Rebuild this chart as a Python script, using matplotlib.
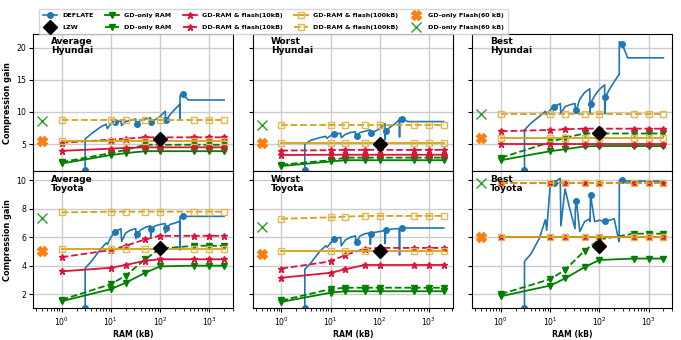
import matplotlib
matplotlib.use("Agg")
import matplotlib.pyplot as plt

# panels in reading order
panel_titles = ["Average\nHyundai", "Worst\nHyundai", "Best\nHyundai",
                "Average\nToyota", "Worst\nToyota", "Best\nToyota"]

ram_kb = [1, 10, 20, 50, 100, 500, 1000, 2000]
flash_x = 0.4
lzw_x = 100

# DEFLATE window sweep (kB)
deflate_x = [3, 3, 4, 6, 8, 8.5, 10, 12, 16, 16.5, 20, 25, 32, 32.5, 34, 40, 50,
             64, 64.5, 66, 80, 100, 128, 128.5, 132, 160, 200, 250, 253, 254,
             288, 375, 2000]
deflate_marks = [0, 7, 14, 19, 24, 30]

deflate_y = [
    [1.0, 5.8, 6.6, 7.6, 8.1, 7.4, 8.2, 8.4, 8.6, 7.9, 8.5, 8.7, 8.9, 7.9, 8.1, 8.7, 8.9,
     9.1, 8.0, 8.5, 8.8, 9.3, 10.1, 8.5, 8.7, 9.6, 10.4, 11.2, 9.0, 12.5,
     12.75, 11.85, 11.85],
    [1.0, 5.0, 5.6, 6.0, 6.2, 5.9, 6.3, 6.55, 6.7, 6.0, 6.5, 6.8, 6.9, 6.0, 6.2, 6.8, 7.0,
     7.2, 6.3, 6.8, 7.0, 7.4, 8.2, 5.7, 7.0, 7.6, 8.1, 8.8, 6.1, 9.1,
     8.9, 8.5, 8.5],
    [1.0, 7.2, 8.2, 9.3, 10.1, 9.6, 10.3, 10.8, 11.3, 9.8, 10.8, 11.1, 11.3, 9.8, 10.3, 12.0, 13.0,
     13.6, 9.7, 11.3, 12.5, 13.5, 14.2, 9.7, 12.3, 13.5, 14.7, 15.8, 15.8, 20.9,
     20.6, 18.4, 18.4],
    [1.0, 3.82, 4.3, 5.1, 5.6, 5.5, 6.0, 6.37, 6.6, 5.7, 6.3, 6.5, 6.6, 5.9, 6.22, 6.5, 6.7,
     6.8, 6.06, 6.58, 6.8, 6.9, 6.96, 6.3, 6.65, 6.9, 7.0, 7.12, 5.1, 7.45,
     7.47, 7.47, 7.47],
    [1.0, 3.75, 4.2, 5.0, 5.4, 5.3, 5.6, 5.88, 6.0, 5.4, 5.8, 6.0, 6.1, 5.5, 5.7, 6.1, 6.25,
     6.3, 5.5, 6.25, 6.35, 6.4, 6.48, 5.55, 6.5, 6.55, 6.6, 6.6, 4.75, 6.65,
     6.65, 6.65, 6.65],
    [1.0, 4.3, 4.8, 5.9, 7.25, 6.5, 9.7, 9.85, 10.15, 6.8, 9.4, 8.0, 6.6, 8.0, 8.55, 6.4, 7.1,
     7.3, 7.1, 8.95, 7.1, 7.2, 7.1, 7.0, 7.13, 7.2, 7.3, 5.7, 5.7, 10.0,
     10.0, 9.95, 9.95],
]

lzw_y = [5.8, 5.0, 6.7, 5.22, 5.0, 5.4]

gd_ram = [
    [2.0, 3.3, 3.6, 3.9, 3.9, 3.9, 3.9, 3.9],
    [1.6, 2.3, 2.5, 2.5, 2.5, 2.5, 2.5, 2.5],
    [2.5, 3.9, 4.2, 4.65, 4.7, 4.7, 4.7, 4.7],
    [1.5, 2.35, 2.8, 3.5, 3.95, 4.0, 4.0, 4.0],
    [1.45, 2.1, 2.2, 2.2, 2.2, 2.2, 2.2, 2.2],
    [1.85, 2.6, 3.1, 3.9, 4.4, 4.5, 4.5, 4.5],
]
dd_ram = [
    [2.2, 3.6, 4.1, 4.9, 4.9, 4.9, 4.9, 4.9],
    [1.8, 2.5, 2.9, 2.9, 2.9, 2.9, 2.9, 2.9],
    [2.9, 5.3, 6.0, 6.65, 6.65, 6.65, 6.65, 6.65],
    [1.6, 2.7, 3.3, 4.45, 5.2, 5.4, 5.4, 5.4],
    [1.55, 2.35, 2.45, 2.45, 2.45, 2.45, 2.45, 2.45],
    [2.0, 3.05, 3.7, 5.05, 5.85, 6.25, 6.25, 6.25],
]
gd_flash10 = [
    [3.95, 4.3, 4.4, 4.5, 4.5, 4.5, 4.5, 4.5],
    [3.3, 3.35, 3.35, 3.35, 3.35, 3.35, 3.35, 3.35],
    [5.0, 5.0, 5.0, 5.0, 5.0, 5.0, 5.0, 5.0],
    [3.6, 3.85, 4.05, 4.35, 4.45, 4.45, 4.45, 4.45],
    [3.15, 3.5, 3.75, 4.05, 4.05, 4.05, 4.05, 4.05],
    [6.0, 6.0, 6.0, 6.0, 6.0, 6.0, 6.0, 6.0],
]
dd_flash10 = [
    [5.2, 5.7, 5.85, 6.05, 6.05, 6.05, 6.05, 6.05],
    [4.0, 4.05, 4.1, 4.1, 4.1, 4.1, 4.1, 4.1],
    [7.0, 7.2, 7.3, 7.4, 7.4, 7.4, 7.4, 7.4],
    [4.6, 5.1, 5.4, 5.85, 6.1, 6.1, 6.1, 6.1],
    [3.8, 4.3, 4.75, 5.2, 5.25, 5.25, 5.25, 5.25],
    [9.85, 9.85, 9.85, 9.85, 9.85, 9.85, 9.85, 9.85],
]
gd_flash100 = [
    [5.5, 5.5, 5.5, 5.5, 5.5, 5.5, 5.5, 5.5],
    [5.2, 5.2, 5.2, 5.2, 5.2, 5.2, 5.2, 5.2],
    [6.0, 6.0, 6.0, 6.0, 6.0, 6.0, 6.0, 6.0],
    [5.2, 5.2, 5.2, 5.2, 5.2, 5.2, 5.2, 5.2],
    [5.05, 5.05, 5.05, 5.05, 5.05, 5.05, 5.05, 5.05],
    [6.0, 6.0, 6.0, 6.0, 6.0, 6.0, 6.0, 6.0],
]
dd_flash100 = [
    [8.7, 8.7, 8.7, 8.7, 8.7, 8.7, 8.7, 8.7],
    [7.9, 7.9, 7.9, 7.9, 7.9, 7.9, 7.9, 7.9],
    [9.65, 9.65, 9.65, 9.65, 9.65, 9.65, 9.65, 9.65],
    [7.75, 7.8, 7.8, 7.8, 7.8, 7.8, 7.8, 7.8],
    [7.3, 7.4, 7.45, 7.5, 7.5, 7.5, 7.5, 7.5],
    [9.85, 9.85, 9.85, 9.85, 9.85, 9.85, 9.85, 9.85],
]
gd_only_flash = [5.5, 5.2, 6.0, 5.0, 4.8, 6.0]
dd_only_flash = [8.6, 7.95, 9.65, 7.35, 6.75, 9.85]

blue = '#1f77b4'
green = 'green'
red = 'crimson'
gold = '#d4a017'

fig, axes = plt.subplots(2, 3, figsize=(6.81, 3.4), dpi=100, sharex=True, sharey='row')
fig.subplots_adjust(left=0.0485, right=0.9875, top=0.9, bottom=0.0932,
                    hspace=0, wspace=0.0975)

for i, ax in enumerate(axes.flat):
    ax.plot(deflate_x, deflate_y[i], '-o', color=blue, lw=1.2, ms=4,
            markevery=deflate_marks, label='DEFLATE')
    ax.plot([lzw_x], [lzw_y[i]], 'D', color='black', ms=7, zorder=10, label='LZW')
    ax.plot(ram_kb, gd_ram[i], '-v', color=green, lw=1.3, ms=5, label='GD-only RAM')
    ax.plot(ram_kb, dd_ram[i], '--v', color=green, lw=1.3, ms=5, label='DD-only RAM')
    ax.plot(ram_kb, gd_flash10[i], '-*', color=red, lw=1.3, ms=5,
            label='GD-RAM & flash(10kB)')
    ax.plot(ram_kb, dd_flash10[i], '--*', color=red, lw=1.3, ms=5,
            label='DD-RAM & flash(10kB)')
    ax.plot(ram_kb, gd_flash100[i], '-s', color=gold, lw=1.3, ms=5, mfc='none',
            mec='#e0b850', label='GD-RAM & flash(100kB)')
    ax.plot(ram_kb, dd_flash100[i], '--s', color=gold, lw=1.3, ms=5, mfc='none',
            mec='#e0b850', label='DD-RAM & flash(100kB)')
    ax.plot([flash_x], [gd_only_flash[i]], 'X', color='#ff7f0e', ms=7,
            label='GD-only Flash(60 kB)')
    ax.plot([flash_x], [dd_only_flash[i]], 'x', color='#2ca02c', ms=7,
            label='DD-only Flash(60 kB)')

    ax.set_xscale('log')
    ax.grid(True, which='major', color='#cccccc', lw=1.0)
    ax.set_axisbelow(True)
    ax.tick_params(labelsize=5.6, length=3, pad=2)
    ax.tick_params(which='minor', length=1.8)
    ax.text(0.09, 0.975, panel_titles[i], transform=ax.transAxes, va='top',
            ha='left', fontsize=6.5, fontweight='bold', linespacing=1.0)

axes[0, 0].set_ylim(0.8, 22.1)
axes[0, 0].set_yticks([5, 10, 15, 20])
axes[1, 0].set_ylim(1.0, 10.65)
axes[1, 0].set_yticks([2, 4, 6, 8, 10])
axes[0, 0].set_xticks([1, 10, 100, 1000])

for ax in axes[:, 0]:
    ax.set_ylabel('Compression gain', fontsize=5.9, fontweight='bold', labelpad=3)
for ax in axes[1, :]:
    ax.set_xlabel('RAM (kB)', fontsize=5.6, fontweight='bold', labelpad=2)

handles, labels = axes[0, 0].get_legend_handles_labels()
fig.legend(handles, labels, loc='lower left', bbox_to_anchor=(0.058, 0.9),
           ncol=5, prop={'size': 4.6, 'weight': 'bold'}, borderaxespad=0,
           handlelength=2.2, columnspacing=1.75, handletextpad=0.8,
           borderpad=0.6, labelspacing=1.05, fancybox=False, edgecolor='#cccccc')

fig.savefig('out.png', dpi=100)
